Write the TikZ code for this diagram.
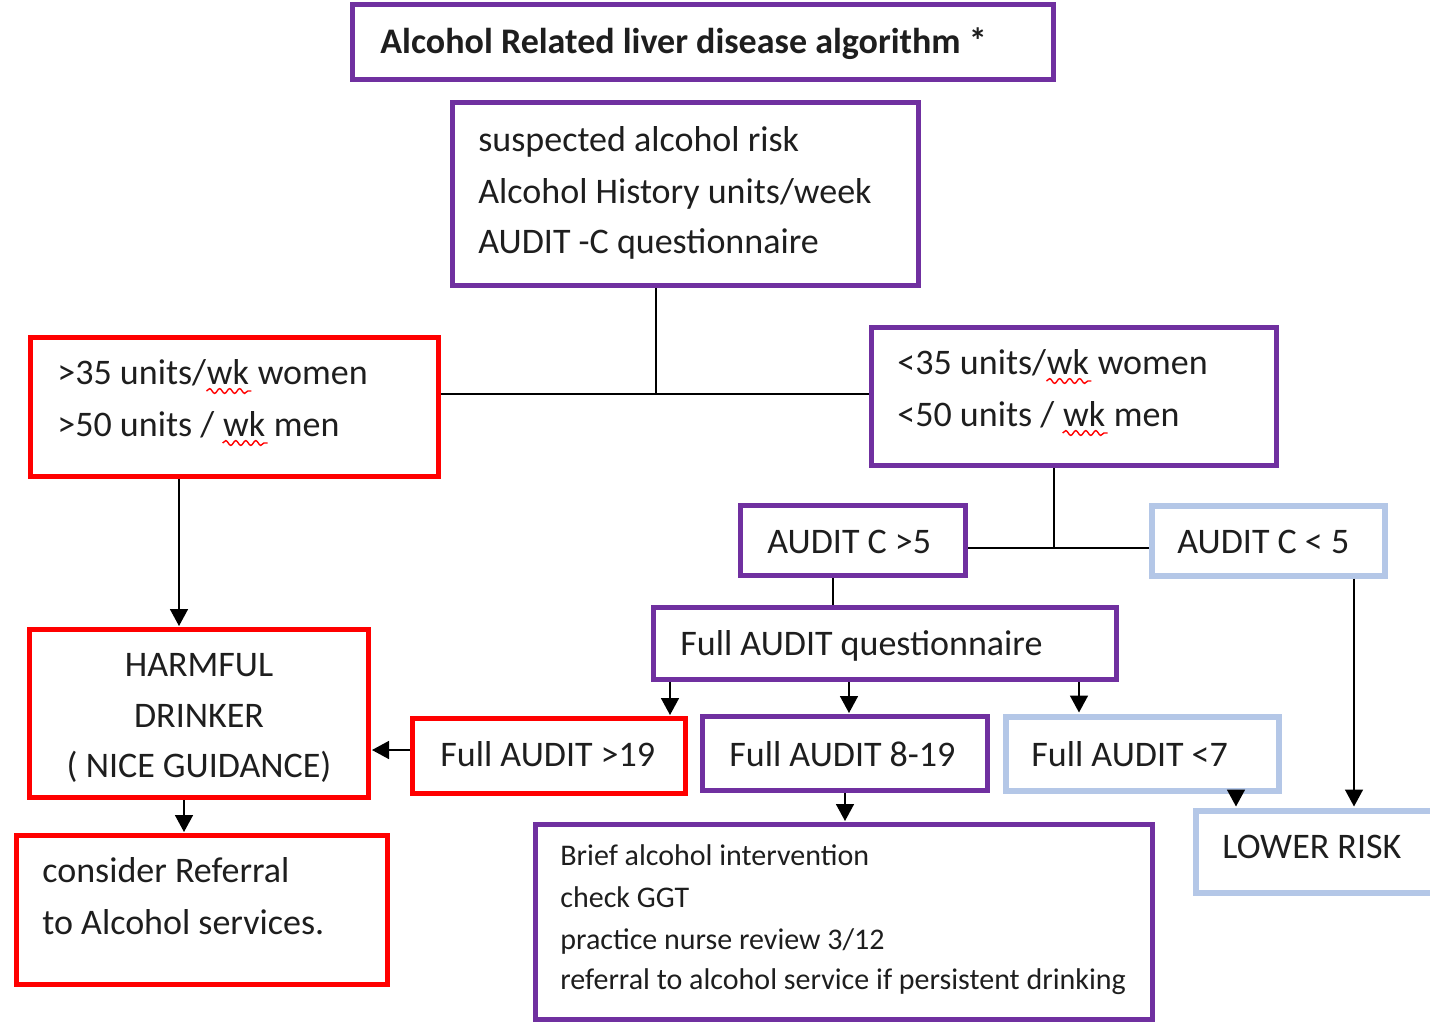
\documentclass[tikz,border=0pt]{standalone}
\usepackage{fontspec}
\setmainfont{Carlito}
\usepackage{tikz}
\usetikzlibrary{arrows.meta}
\usetikzlibrary{calc}
\usetikzlibrary{decorations.pathmorphing}

\definecolor{algpurple}{RGB}{112,48,160}
\definecolor{algred}{RGB}{255,0,0}
\definecolor{algblue}{RGB}{180,199,231}
\definecolor{algtext}{RGB}{30,30,30}

\tikzset{
	purplebox/.style={draw=algpurple,line width=2.5pt,inner sep=0pt},
	redbox/.style={draw=algred,line width=2.5pt,inner sep=0pt},
	bluebox/.style={draw=algblue,line width=3pt,inner sep=0pt},
	txt/.style={inner sep=0pt,text=algtext,font=\fontsize{18}{20}\selectfont},
	smalltxt/.style={inner sep=0pt,text=algtext,font=\fontsize{15}{17}\selectfont},
	titletxt/.style={inner sep=0pt,text=algtext,font=\fontsize{18}{20}\selectfont\bfseries},
	spellwave/.style={draw=red,line width=0.7pt,decorate,decoration={snake,segment length=5pt,amplitude=1.2pt}},
	conn/.style={line width=0.8pt},
	arr/.style={line width=0.8pt,->,>={Triangle[length=8.5pt,width=9pt]},shorten >=0.5pt}
}

\begin{document}
\begin{tikzpicture}[x=0.5pt,y=-0.5pt]

	\useasboundingbox (0,0) rectangle (1430,1024);
	\clip (0,0) rectangle (1430,1024);

	% boxes
	\node[purplebox,minimum width=350.5pt,minimum height=37.5pt] (title) at (703,42) {};
	\node[purplebox,minimum width=233pt,minimum height=91.5pt] (susp) at (685.5,194) {};
	\node[redbox,minimum width=204pt,minimum height=69.5pt] (high) at (234.5,407) {};
	\node[purplebox,minimum width=202.5pt,minimum height=69pt] (low) at (1074,396.5) {};
	\node[purplebox,minimum width=112.5pt,minimum height=35pt] (cgt) at (853,540.5) {};
	\node[bluebox,minimum width=116.5pt,minimum height=35pt] (clt) at (1268,540.5) {};
	\node[purplebox,minimum width=231.5pt,minimum height=36pt] (quest) at (885,643.5) {};
	\node[redbox,minimum width=136.5pt,minimum height=37.5pt] (fhigh) at (549,756) {};
	\node[purplebox,minimum width=142.5pt,minimum height=37pt] (fmid) at (845,753.5) {};
	\node[bluebox,minimum width=136.5pt,minimum height=37pt] (flow) at (1142,753.5) {};
	\node[redbox,minimum width=169.5pt,minimum height=84pt] (harm) at (199,713.5) {};
	\node[redbox,minimum width=185.5pt,minimum height=74.5pt] (refer) at (202,910) {};
	\node[purplebox,minimum width=308.5pt,minimum height=97.5pt] (brief) at (844,922) {};
	\node[bluebox,minimum width=132pt,minimum height=41pt] (lower) at (1328,851.5) {};

	% texts
	\node[titletxt,anchor=base west] (ttitle) at (380,53) {Alcohol Related liver disease algorithm *};
	\node[txt,anchor=base west] (tsusp1) at (478,151) {suspected alcohol risk};
	\node[txt,anchor=base west] (tsusp2) at (478,203) {Alcohol History units/week};
	\node[txt,anchor=base west] (tsusp3) at (478,253) {AUDIT -C questionnaire};

	\node[txt,anchor=base west] (thigh1) at (57,384) {>35 units/};
	\node[txt,anchor=base west] (whigh1) at (thigh1.base east) {wk};
	\node[txt,anchor=base west] (thigh1b) at ($(whigh1.base east)+(8,0)$) {women};
	\node[txt,anchor=base west] (thigh2) at (57,436) {>50 units /};
	\node[txt,anchor=base west] (whigh2) at ($(thigh2.base east)+(8,0)$) {wk};
	\node[txt,anchor=base west] (thigh2b) at ($(whigh2.base east)+(8,0)$) {men};
	\node[txt,anchor=base west] (tlow1) at (897,374) {<35 units/};
	\node[txt,anchor=base west] (wlow1) at (tlow1.base east) {wk};
	\node[txt,anchor=base west] (tlow1b) at ($(wlow1.base east)+(8,0)$) {women};
	\node[txt,anchor=base west] (tlow2) at (897,426) {<50 units /};
	\node[txt,anchor=base west] (wlow2) at ($(tlow2.base east)+(8,0)$) {wk};
	\node[txt,anchor=base west] (tlow2b) at ($(wlow2.base east)+(8,0)$) {men};
	\foreach \w in {whigh1,whigh2,wlow1,wlow2}
		\draw[spellwave] ($(\w.base west)+(0,7)$) -- ($(\w.base east)+(2,7)$);

	\node[txt,anchor=base west] (tcgt) at (767,553) {AUDIT C >5};
	\node[txt,anchor=base west] (tclt) at (1177,553) {AUDIT C < 5};
	\node[txt,anchor=base west] (tquest) at (680,655) {Full AUDIT questionnaire};
	\node[txt,anchor=base west] (tfhigh) at (440,766) {Full AUDIT >19};
	\node[txt,anchor=base west] (tfmid) at (729,766) {Full AUDIT 8-19};
	\node[txt,anchor=base west] (tflow) at (1031,766) {Full AUDIT <7};
	\node[txt,anchor=base] (tharm1) at (199,676) {HARMFUL};
	\node[txt,anchor=base] (tharm2) at (199,727) {DRINKER};
	\node[txt,anchor=base] (tharm3) at (199,777) {( NICE GUIDANCE)};
	\node[txt,anchor=base west] (trefer1) at (42,882) {consider Referral};
	\node[txt,anchor=base west] (trefer2) at (42,934) {to Alcohol services.};
	\node[smalltxt,anchor=base west] (tbrief1) at (560,865) {Brief alcohol intervention};
	\node[smalltxt,anchor=base west] (tbrief2) at (560,907) {check GGT};
	\node[smalltxt,anchor=base west] (tbrief3) at (560,949) {practice nurse review 3/12};
	\node[smalltxt,anchor=base west] (tbrief4) at (560,989) {referral to alcohol service if persistent drinking};
	\node[txt,anchor=base west] (tlower) at (1222,858) {LOWER RISK};

	% columns and rows of the connectors
	\coordinate (splitA) at (656,394);
	\coordinate (splitB) at (1054,548);
	\coordinate (colHigh) at (179,0);
	\coordinate (colQuest) at (833,0);
	\coordinate (colF1) at (670,0);
	\coordinate (colF2) at (849,0);
	\coordinate (colF3) at (1079,0);
	\coordinate (colHarm) at (184,0);
	\coordinate (colMid) at (845,0);
	\coordinate (colLow1) at (1236,0);
	\coordinate (colLow2) at (1354,0);
	\coordinate (rowHarm) at (0,750);

	\draw[conn] (susp.south -| splitA) -- (splitA);
	\draw[conn] (high.east |- splitA) -- (low.west |- splitA);
	\draw[arr] (high.south -| colHigh) -- (harm.north -| colHigh);
	\draw[conn] (low.south -| splitB) -- (splitB);
	\draw[conn] (cgt.east |- splitB) -- (clt.west |- splitB);
	\draw[conn] (cgt.south -| colQuest) -- (quest.north -| colQuest);
	\draw[arr] (quest.south -| colF1) -- (fhigh.north -| colF1);
	\draw[arr] (quest.south -| colF2) -- (fmid.north -| colF2);
	\draw[arr] (quest.south -| colF3) -- (flow.north -| colF3);
	\draw[arr] (fhigh.west |- rowHarm) -- (harm.east |- rowHarm);
	\draw[arr] (harm.south -| colHarm) -- (refer.north -| colHarm);
	\draw[arr] (fmid.south -| colMid) -- (brief.north -| colMid);
	\draw[arr] (flow.south -| colLow1) -- (lower.north -| colLow1);
	\draw[arr] (clt.south -| colLow2) -- (lower.north -| colLow2);

\end{tikzpicture}
\end{document}
